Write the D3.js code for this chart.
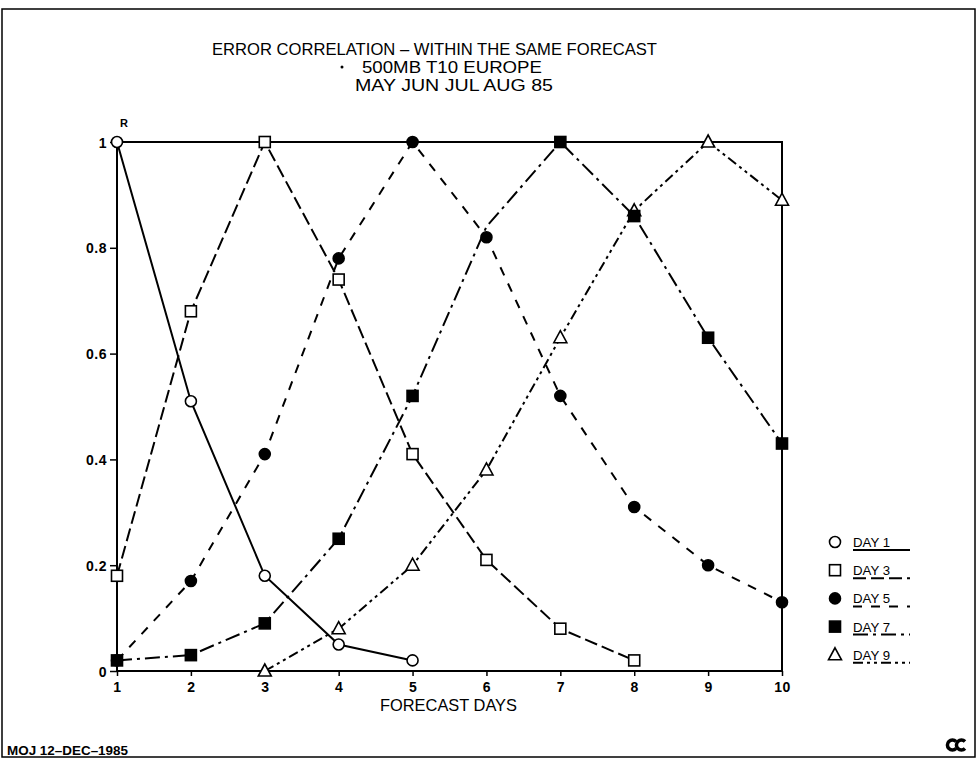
<!DOCTYPE html>
<html>
<head>
<meta charset="utf-8">
<script src="https://cdn.jsdelivr.net/npm/d3@7"></script>
<style>
body { margin: 0; background: #fff; }
svg { display: block; }
text { font-family: "Liberation Sans", Arial, sans-serif; fill: #000; }
</style>
</head>
<body>
<svg id="chart" width="977" height="760"></svg>
<script>
// forecast days on the x axis
const days = [1, 2, 3, 4, 5, 6, 7, 8, 9, 10];
const yTicks = [0, 0.2, 0.4, 0.6, 0.8, 1];
const yTickLabels = ['0', '0.2', '0.4', '0.6', '0.8', '1'];

// correlation values, null = no point
const day1 = [1.0, 0.51, 0.18, 0.05, 0.02, null, null, null, null, null];
const day3 = [0.18, 0.68, 1.0, 0.74, 0.41, 0.21, 0.08, 0.02, null, null];
const day5 = [0.02, 0.17, 0.41, 0.78, 1.0, 0.82, 0.52, 0.31, 0.20, 0.13];
const day7 = [0.02, 0.03, 0.09, 0.25, 0.52, 0.84, 1.0, 0.86, 0.63, 0.43];
const day9 = [null, null, 0.0, 0.08, 0.20, 0.38, 0.63, 0.87, 1.0, 0.89];
// day 7 has no symbol plotted at day 6
const day7NoMark = [6];

const seriesNames = ['DAY 1', 'DAY 3', 'DAY 5', 'DAY 7', 'DAY 9'];
const titleLines = ['ERROR CORRELATION \u2013 WITHIN THE SAME FORECAST', '500MB T10 EUROPE', 'MAY JUN JUL AUG 85'];

const lineWidth = 2;
const styles = [
	{dash: null, mark: 'circle', fill: '#fff'},
	{dash: '13,5', mark: 'square', fill: '#fff'},
	{dash: '9,9', mark: 'circle', fill: '#000'},
	{dash: '15,5,3,5', mark: 'square', fill: '#000'},
	{dash: '10,4,3,4,3,4', mark: 'triangle', fill: '#fff'}
];
const allSeries = [day1, day3, day5, day7, day9];

var svg = d3.select('#chart');

// outer frame of the plot sheet
svg.append('rect')
.attr('x', 2).attr('y', 9).attr('width', 973).attr('height', 748)
.style('fill', 'none').style('stroke', '#000').style('stroke-width', 1.5);

var x = d3.scaleLinear().domain([1, 10]).range([117, 782]);
var y = d3.scaleLinear().domain([0, 1]).range([671, 142]);

// title
var titleX = [212, 362, 355];
var titleW = [445, 180, 198];
var titleY = [55, 73, 91];
titleLines.forEach((t, i) => {
	svg.append('text')
	.attr('x', titleX[i]).attr('y', titleY[i])
	.attr('textLength', titleW[i]).attr('lengthAdjust', 'spacingAndGlyphs')
	.style('font-size', '17px')
	.text(t);
});
svg.append('circle').attr('cx', 342).attr('cy', 67).attr('r', 1.5).style('fill', '#000');

// frame of the plot
var frame = svg.append('g').style('stroke', '#000').style('stroke-width', 2).style('fill', 'none');
frame.append('path')
.attr('d', 'M' + x(1) + ',' + y(0) + 'V' + y(1) + 'H' + x(10) + 'V' + y(0) + 'Z');

// axes
var xAxis = svg.append('g')
.attr('transform', 'translate(0,' + y(0) + ')')
.call(d3.axisBottom(x).tickValues(days).tickFormat(d3.format('d')).tickSize(5).tickPadding(6));
var yAxis = svg.append('g')
.attr('transform', 'translate(' + x(1) + ',0)')
.call(d3.axisLeft(y).tickValues(yTicks).tickFormat((d, i) => yTickLabels[i]).tickSize(7).tickPadding(3));
[xAxis, yAxis].forEach(a => {
	a.attr('font-size', 14).attr('font-family', '"Liberation Sans", Arial, sans-serif');
	a.select('.domain').remove();
	a.selectAll('line').style('stroke', '#000').style('stroke-width', 1.5);
	a.selectAll('text').style('font-size', '14px').style('font-weight', 'bold')
	.style('letter-spacing', '0.5px');
});
yAxis.selectAll('text').attr('dy', '0.36em');

svg.append('text')
.attr('x', 380).attr('y', 711)
.attr('textLength', 137).attr('lengthAdjust', 'spacingAndGlyphs')
.style('font-size', '17px')
.text('FORECAST DAYS');

svg.append('text')
.attr('x', x(1) + 7).attr('y', 127)
.attr('text-anchor', 'middle')
.style('font-size', '11px').style('font-weight', 'bold')
.text('R');

// lines
var line = d3.line()
.defined(d => d.v !== null)
.x(d => x(d.day)).y(d => y(d.v));

var lines = svg.append('g');
allSeries.forEach((s, i) => {
	var pts = s.map((v, j) => ({day: days[j], v: v}));
	lines.append('path')
	.datum(pts)
	.attr('d', line)
	.style('fill', 'none').style('stroke', '#000')
	.style('stroke-width', lineWidth)
	.style('stroke-dasharray', styles[i].dash);
});

function drawMark(g, kind, fill, cx, cy){
	var m;
	if(kind == 'circle'){
		m = g.append('circle').attr('cx', cx).attr('cy', cy).attr('r', 5.5);
	}else if(kind == 'square'){
		m = g.append('rect').attr('x', cx - 5.5).attr('y', cy - 5.5).attr('width', 11).attr('height', 11);
	}else{
		m = g.append('path').attr('d', 'M' + cx + ',' + (cy - 7) + 'L' + (cx + 6.5) + ',' + (cy + 5) + 'L' + (cx - 6.5) + ',' + (cy + 5) + 'Z');
	}
	m.style('fill', fill).style('stroke', '#000').style('stroke-width', 1.6);
}

// markers: open ones first, filled on top
var marks = svg.append('g');
[4, 0, 1, 2, 3].forEach(i => {
	allSeries[i].forEach((v, j) => {
		if(v === null)	return;
		if(i == 3 && day7NoMark.includes(days[j]))	return;
		drawMark(marks, styles[i].mark, styles[i].fill, x(days[j]), y(v));
	});
});

// legend
var legend = svg.append('g');
seriesNames.forEach((name, i) => {
	var ly = 542 + i * 28.2;
	drawMark(legend, styles[i].mark, styles[i].fill, 835, ly);
	legend.append('text')
	.attr('x', 853).attr('y', ly + 5)
	.attr('textLength', 37).attr('lengthAdjust', 'spacingAndGlyphs')
	.style('font-size', '13px')
	.text(name);
	legend.append('line')
	.attr('x1', 853).attr('x2', 910)
	.attr('y1', ly + 8).attr('y2', ly + 8)
	.style('stroke', '#000').style('stroke-width', 2)
	.style('stroke-dasharray', styles[i].dash);
});

// footer
svg.append('text')
.attr('x', 7).attr('y', 755)
.attr('textLength', 121).attr('lengthAdjust', 'spacingAndGlyphs')
.style('font-size', '12px').style('font-weight', 'bold')
.text('MOJ 12\u2013DEC\u20131985');

// logo in the bottom right corner: two overlapping C shapes
var logo = svg.append('g').style('fill', 'none').style('stroke', '#000').style('stroke-width', 3.5);
logo.append('path').attr('d', 'M956,741.5 A5,5 0 1 0 956,748.5');
logo.append('path').attr('d', 'M965,741.5 A5,5 0 1 0 965,748.5');
</script>
</body>
</html>
